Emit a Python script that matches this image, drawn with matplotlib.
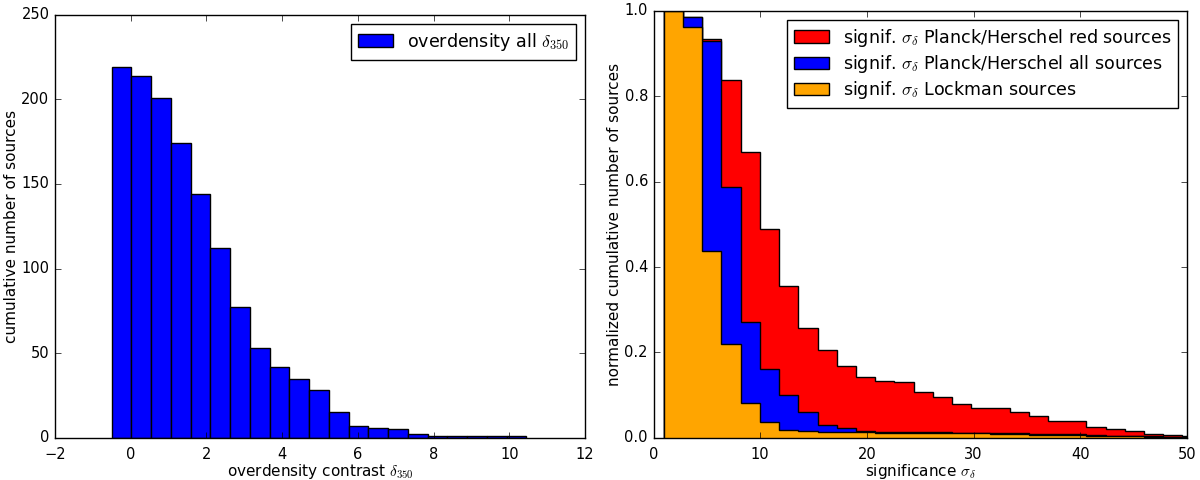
import numpy as np
import matplotlib
matplotlib.use("Agg")
import matplotlib.pyplot as plt

# left panel: cumulative counts per overdensity bin
delta_start = -0.5
delta_width = 0.5214
delta_counts = [219, 214, 201, 174, 144, 112, 77, 53, 42, 35, 28,
                15, 7, 6, 5, 2, 1, 1, 1, 1, 1]

# right panel: normalized cumulative counts per significance bin
sig_start = 0.97
sig_width = 1.80
red_sources = [1.0, 0.985, 0.934, 0.8375, 0.670, 0.490, 0.355, 0.258, 0.205,
               0.169, 0.143, 0.134, 0.1305, 0.108, 0.0954, 0.078, 0.069, 0.069,
               0.060, 0.0516, 0.040, 0.040, 0.025, 0.021, 0.0157, 0.009,
               0.0065, 0.005]
all_sources = [1.0, 0.987, 0.930, 0.587, 0.271, 0.161, 0.099, 0.061, 0.030,
               0.022, 0.016, 0.014, 0.013, 0.013, 0.013, 0.012, 0.012, 0.011,
               0.010, 0.009, 0.008, 0.008, 0.006, 0.005, 0.004, 0.003,
               0.002, 0.002]
lockman_sources = [1.0, 0.962, 0.438, 0.219, 0.082, 0.036, 0.018, 0.0164,
                   0.014, 0.013, 0.0126, 0.012, 0.012, 0.012, 0.011, 0.011,
                   0.010, 0.009, 0.008, 0.007, 0.006, 0.006, 0.005, 0.004,
                   0.003, 0.002, 0.002, 0.001]

plt.style.use("classic")
plt.rcParams["figure.facecolor"] = "white"
plt.rcParams["savefig.facecolor"] = "white"
plt.rcParams["mathtext.fontset"] = "cm"

tick_size = 10.5
label_size = 11

fig = plt.figure(figsize=(12, 4.8), dpi=100)
ax1 = fig.add_axes([0.0458, 0.0881, 0.4417, 0.881])
ax2 = fig.add_axes([0.5446, 0.0881, 0.4446, 0.889])

delta_edges = delta_start + delta_width * np.arange(len(delta_counts) + 1)
ax1.hist(delta_edges[:-1], bins=delta_edges, weights=delta_counts,
         color="blue", edgecolor="black", linewidth=1,
         label=r"overdensity all $\delta_{350}$")
ax1.set_xlim(-2, 12)
ax1.set_ylim(0, 250)
ax1.set_xticks(np.arange(-2, 13, 2))
ax1.set_yticks(np.arange(0, 251, 50))
ax1.set_xlabel(r"overdensity contrast $\delta_{350}$", fontsize=label_size, labelpad=0.5)
ax1.set_ylabel("cumulative number of sources", fontsize=label_size, labelpad=1.5)
ax1.tick_params(labelsize=tick_size)
ax1.tick_params(axis="x", pad=6.5)
ax1.legend(loc="upper right", fontsize=12.6)

sig_edges = sig_start + sig_width * np.arange(len(red_sources) + 1)
ax2.stairs(red_sources, sig_edges, fill=True, facecolor="red",
           edgecolor="black", linewidth=1,
           label=r"signif. $\sigma_\delta$ Planck/Herschel red sources")
ax2.stairs(all_sources, sig_edges, fill=True, facecolor="blue",
           edgecolor="black", linewidth=1,
           label=r"signif. $\sigma_\delta$ Planck/Herschel all sources")
ax2.stairs(lockman_sources, sig_edges, fill=True, facecolor="orange",
           edgecolor="black", linewidth=1,
           label=r"signif. $\sigma_\delta$ Lockman sources")
ax2.set_xlim(0, 50)
ax2.set_ylim(0, 1.0)
ax2.set_xticks(np.arange(0, 51, 10))
ax2.set_yticks(np.arange(0, 1.01, 0.2))
ax2.set_xlabel(r"significance $\sigma_\delta$", fontsize=label_size, labelpad=0.5)
ax2.set_ylabel("normalized cumulative number of sources", fontsize=label_size, labelpad=1.5)
ax2.tick_params(labelsize=tick_size)
ax2.tick_params(axis="x", pad=6.5)
ax2.legend(loc="upper right", fontsize=12.6, labelspacing=0.25)

fig.savefig("out.png", dpi=100)
